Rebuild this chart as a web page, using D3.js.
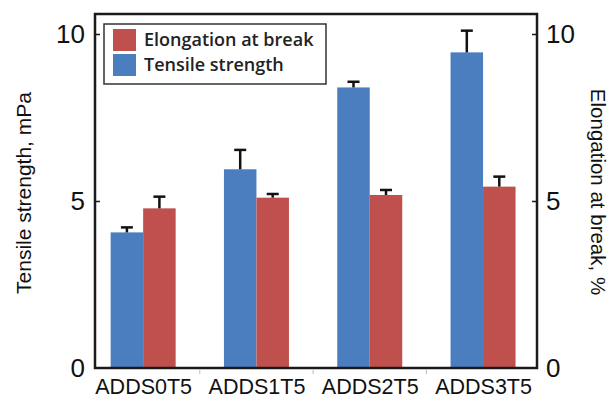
<!DOCTYPE html>
<html>
<head>
<meta charset="utf-8">
<script src="https://cdn.jsdelivr.net/npm/d3@7"></script>
<style>
body { margin: 0; background: #fff; }
svg { font-family: "Liberation Sans", Arial, sans-serif; }
</style>
</head>
<body>
<svg width="616" height="402"></svg>
<script>
// data
var categories = ["ADDS0T5", "ADDS1T5", "ADDS2T5", "ADDS3T5"];
var tensile = [4.06, 5.95, 8.40, 9.45];
var tensileErr = [0.15, 0.58, 0.17, 0.65];
var elongation = [4.78, 5.10, 5.18, 5.43];
var elongationErr = [0.35, 0.11, 0.15, 0.30];
var yTicks = [0, 5, 10];

var svg = d3.select("svg");
var plotL = 95, plotR = 537, plotT = 14, plotB = 368;

var x0 = d3.scaleBand()
    .domain(categories)
    .range([86.5, 539.7]);
var x1 = d3.scaleBand()
    .domain(["tensile", "elongation"])
    .range([0, x0.bandwidth()])
    .paddingOuter(0.743);
var yL = d3.scaleLinear().domain([0, 10]).range([plotB, 34]);
var yR = d3.scaleLinear().domain([0, 10]).range([plotB, 34]);

var colors = { tensile: "#4a7ebf", elongation: "#c0504d" };

var rows = categories.map(function(c, i) {
    return [
        { cat: c, key: "tensile", v: tensile[i], e: tensileErr[i], y: yL },
        { cat: c, key: "elongation", v: elongation[i], e: elongationErr[i], y: yR }
    ];
}).flat();

// bars
var g = svg.append("g");
g.selectAll("rect")
    .data(rows)
    .enter()
    .append("rect")
    .attr("x", d => x0(d.cat) + x1(d.key))
    .attr("width", x1.bandwidth())
    .attr("y", d => d.y(d.v))
    .attr("height", d => plotB - d.y(d.v))
    .attr("fill", d => colors[d.key]);

// error bars (upper only)
var eb = svg.append("g").attr("stroke", "#111").attr("stroke-width", 2.5);
rows.forEach(function(d) {
    var cx = x0(d.cat) + x1(d.key) + x1.bandwidth() / 2;
    eb.append("line")
        .attr("x1", cx).attr("x2", cx)
        .attr("y1", d.y(d.v)).attr("y2", d.y(d.v + d.e));
    eb.append("line")
        .attr("x1", cx - 6).attr("x2", cx + 6)
        .attr("y1", d.y(d.v + d.e)).attr("y2", d.y(d.v + d.e));
});

// frame
svg.append("rect")
    .attr("x", plotL).attr("y", plotT)
    .attr("width", plotR - plotL).attr("height", plotB - plotT)
    .attr("fill", "none")
    .attr("stroke", "#1a1a1a")
    .attr("stroke-width", 2.5);

// left axis, ticks pointing inward
var axL = svg.append("g")
    .attr("transform", `translate(${plotL},0)`)
    .call(d3.axisRight(yL).tickValues(yTicks).tickSize(5));
axL.select(".domain").remove();
axL.selectAll("line").attr("stroke", "#1a1a1a").attr("stroke-width", 1.5);
axL.selectAll("text")
    .attr("text-anchor", "end")
    .attr("x", -10)
    .attr("font-size", 26)
    .attr("fill", "#111");

// right axis, ticks pointing inward
var axR = svg.append("g")
    .attr("transform", `translate(${plotR},0)`)
    .call(d3.axisLeft(yR).tickValues(yTicks).tickSize(5));
axR.select(".domain").remove();
axR.selectAll("line").attr("stroke", "#1a1a1a").attr("stroke-width", 1.5);
axR.selectAll("text")
    .attr("text-anchor", "start")
    .attr("x", 9)
    .attr("font-size", 26)
    .attr("fill", "#111");
axL.selectAll(".tick").filter(d => d === 0).selectAll("line").remove();
axR.selectAll(".tick").filter(d => d === 0).selectAll("line").remove();

// bottom axis: labels at group centres, small ticks between groups
var xc = d3.scalePoint()
    .domain(categories)
    .range([x0(categories[0]) + x0.bandwidth() / 2,
            x0(categories[3]) + x0.bandwidth() / 2]);
var axB = svg.append("g")
    .attr("transform", `translate(0,${plotB})`)
    .call(d3.axisBottom(xc).tickSize(0).tickPadding(11));
axB.select(".domain").remove();
axB.selectAll("text")
    .attr("font-size", 21.5)
    .attr("fill", "#111");
axB.selectAll("line.sep")
    .data(categories.slice(1))
    .enter()
    .append("line")
    .attr("class", "sep")
    .attr("x1", d => x0(d)).attr("x2", d => x0(d))
    .attr("y1", 2).attr("y2", 6)
    .attr("stroke", "#bbb");

// axis titles
svg.append("text")
    .attr("transform", "translate(31,193) rotate(-90)")
    .attr("text-anchor", "middle")
    .attr("font-size", 21)
    .attr("fill", "#111")
    .text("Tensile strength, mPa");
svg.append("text")
    .attr("transform", "translate(591,192) rotate(90)")
    .attr("text-anchor", "middle")
    .attr("font-size", 20.5)
    .attr("fill", "#111")
    .text("Elongation at break, %");

// legend
var leg = svg.append("g").attr("transform", "translate(104,24)");
leg.append("rect")
    .attr("width", 222).attr("height", 60)
    .attr("fill", "#fff")
    .attr("stroke", "#333")
    .attr("stroke-width", 1.5);
var legItems = [
    { key: "elongation", label: "Elongation at break" },
    { key: "tensile", label: "Tensile strength" }
];
var li = leg.selectAll("g.item")
    .data(legItems)
    .enter()
    .append("g")
    .attr("class", "item")
    .attr("transform", (d, i) => `translate(9,${5 + i * 25})`);
li.append("rect")
    .attr("width", 23).attr("height", 22)
    .attr("fill", d => colors[d.key]);
li.append("text")
    .attr("x", 31).attr("y", 17)
    .attr("font-family", "'Open Sans', sans-serif")
    .attr("font-weight", 600)
    .attr("font-size", 18)
    .attr("fill", "#222")
    .text(d => d.label);
</script>
</body>
</html>
